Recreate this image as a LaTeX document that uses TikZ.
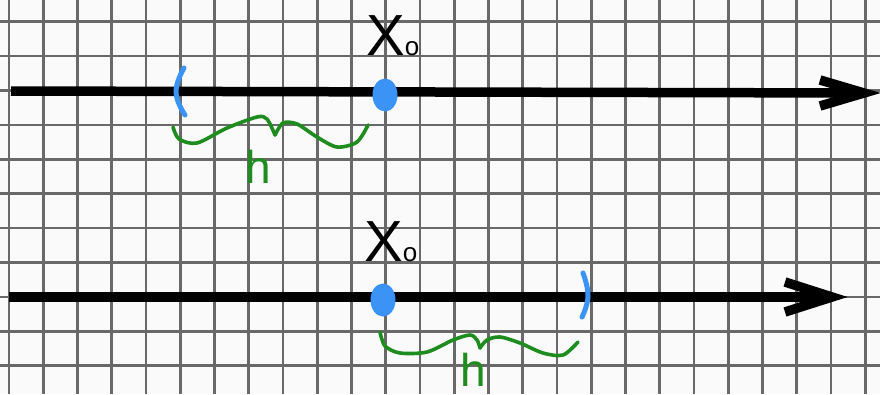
\documentclass[tikz,border=0pt]{standalone}
\usepackage{fontspec}
\setmainfont{Liberation Sans}
\usetikzlibrary{shapes.geometric}
\definecolor{gridgray}{RGB}{105,105,105}
\definecolor{dotblue}{RGB}{59,147,245}
\definecolor{braceg}{RGB}{30,140,30}
\definecolor{paper}{RGB}{250,250,250}
\begin{document}
\begin{tikzpicture}[x=1pt,y=-1pt,
  gridline/.style={draw=gridgray, line width=2.6pt},
  axisline/.style={draw=black, line width=9.5pt, line cap=butt},
  arrowhead/.style={draw=black, line width=9.5pt, line join=miter, line cap=butt},
  dot/.style={ellipse, fill=dotblue, inner sep=0pt, minimum width=25pt, minimum height=33pt},
  bracket/.style={draw=dotblue, line width=5pt, line cap=round},
  brace/.style={draw=braceg, line width=3.6pt, line cap=round, line join=round},
  xlbl/.style={font=\fontsize{58}{58}\selectfont, inner sep=0pt, anchor=base west},
  hlbl/.style={font=\fontsize{46}{46}\selectfont, text=braceg, inner sep=0pt, anchor=base west}]

\fill[paper] (0,0) rectangle (880,394);
\useasboundingbox (0,0) rectangle (880,394);

% grid
\foreach \k in {0,...,25} \draw[gridline] ({9+34.25*\k},0) -- ({9+34.25*\k},394);
\foreach \k in {0,...,10} \draw[gridline] (0,{21.7+34.4*\k}) -- (880,{21.7+34.4*\k});

% top axis
\coordinate (a1s) at (11,91);
\coordinate (a1e) at (862,93);
\coordinate (a1v) at (864,93);
\coordinate (a1u) at (820,80);
\coordinate (a1d) at (820,106);
\draw[axisline] (a1s) -- (a1e);
\draw[arrowhead] (a1u) -- (a1v) -- (a1d);

% bottom axis
\coordinate (a2s) at (9,297);
\coordinate (a2e) at (830,297);
\coordinate (a2v) at (832,297);
\coordinate (a2u) at (785,282);
\coordinate (a2d) at (785,312);
\draw[axisline] (a2s) -- (a2e);
\draw[arrowhead] (a2u) -- (a2v) -- (a2d);

% points
\node[dot] (x1dot) at (385,95) {};
\node[dot] (x2dot) at (383,300) {};

% labels X_o
\node[xlbl] (x1lbl) at (366,55) {X{\fontsize{26}{26}\selectfont o}};
\node[xlbl] (x2lbl) at (364,261) {X{\fontsize{26}{26}\selectfont o}};

% blue interval ends
\draw[bracket] plot[smooth, tension=0.8] coordinates {(184,68) (176,92) (185,115)};
\draw[bracket] plot[smooth, tension=0.8] coordinates {(583,273) (588,296) (582,317)};

% green braces
\draw[brace] plot[smooth] coordinates {(173,127) (179,139) (197,143) (227,128) (257,117) (267,119) (275,135)};
\draw[brace] plot[smooth] coordinates {(275,135) (283,123) (297,124) (317,137) (337,147) (357,142) (368,125)};
\draw[brace] plot[smooth] coordinates {(380,332) (385,346) (400,353) (427,352) (453,340) (470,335) (477,340) (480,348)};
\draw[brace] plot[smooth] coordinates {(480,348) (487,340) (500,337) (520,343) (543,353) (563,355) (578,342)};

% h labels
\node[hlbl] (h1lbl) at (245,183) {h};
\node[hlbl] (h2lbl) at (460,386) {h};
\end{tikzpicture}
\end{document}
